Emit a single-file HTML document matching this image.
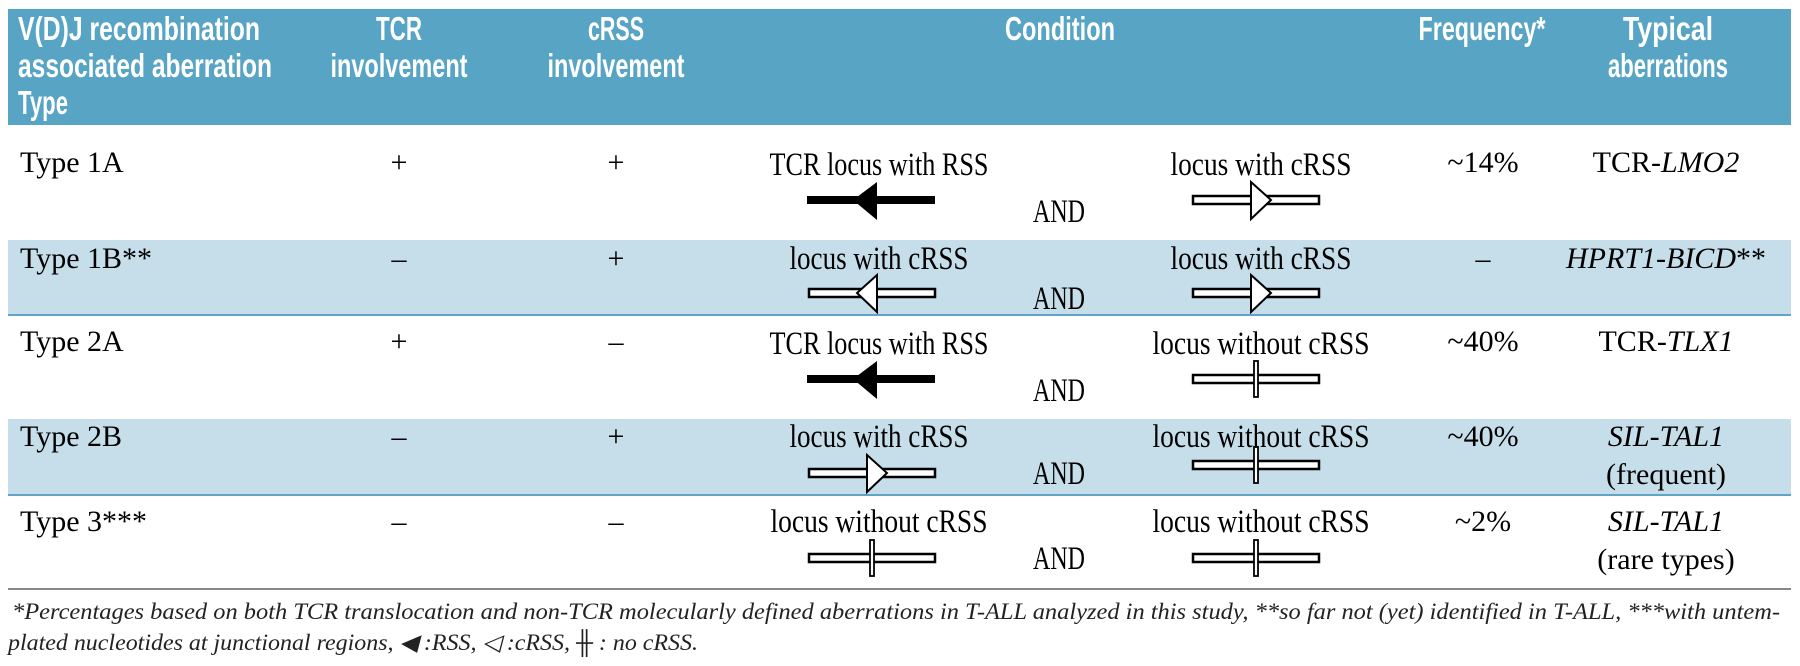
<!DOCTYPE html>
<html><head><meta charset="utf-8"><style>html,body{margin:0;padding:0;background:#fff}svg{display:block}</style></head><body>
<svg width="1800" height="666" viewBox="0 0 1800 666" xmlns="http://www.w3.org/2000/svg">
<defs>
<g id="bar"><rect x="-63" y="-4" width="126" height="8" fill="#fff" stroke="#000" stroke-width="2.5"/></g>
<g id="rss"><rect x="-65" y="-4" width="128" height="8" fill="#000"/><polygon points="-19,0 5,-18 5,20" fill="#000"/></g>
<g id="crssR"><use href="#bar"/><polygon points="-5,-18 15,0 -5,19" fill="#fff" stroke="#000" stroke-width="2"/></g>
<g id="crssL"><use href="#bar"/><polygon points="5,-18 -15,0 5,19" fill="#fff" stroke="#000" stroke-width="2"/></g>
<g id="none"><use href="#bar"/><rect x="-2" y="-18" width="4" height="36" fill="#fff" stroke="#000" stroke-width="1.8"/></g>
</defs>
<rect x="8" y="9" width="1783" height="116" fill="#58a4c5"/>
<rect x="8" y="240" width="1783" height="75" fill="#c6deea"/>
<rect x="8" y="419" width="1783" height="76" fill="#c6deea"/>
<rect x="8" y="314" width="1783" height="2" fill="#5fa5c5"/>
<rect x="8" y="494" width="1783" height="2" fill="#5fa5c5"/>
<rect x="8" y="588" width="1783" height="2" fill="#888"/>
<g font-family="'Liberation Sans Narrow','Liberation Sans',sans-serif" font-weight="bold" font-size="33" fill="#fff">
<text x="18" y="40" textLength="242" lengthAdjust="spacingAndGlyphs">V(D)J recombination</text>
<text x="18" y="77" textLength="254" lengthAdjust="spacingAndGlyphs">associated aberration</text>
<text x="18" y="114" textLength="50" lengthAdjust="spacingAndGlyphs">Type</text>
<g text-anchor="middle">
<text x="399" y="40" textLength="46" lengthAdjust="spacingAndGlyphs">TCR</text>
<text x="399" y="77" textLength="137" lengthAdjust="spacingAndGlyphs">involvement</text>
<text x="616" y="40" textLength="56" lengthAdjust="spacingAndGlyphs">cRSS</text>
<text x="616" y="77" textLength="137" lengthAdjust="spacingAndGlyphs">involvement</text>
<text x="1060" y="40" textLength="110" lengthAdjust="spacingAndGlyphs">Condition</text>
<text x="1482" y="40" textLength="127" lengthAdjust="spacingAndGlyphs">Frequency*</text>
<text x="1668" y="40" textLength="90" lengthAdjust="spacingAndGlyphs">Typical</text>
<text x="1668" y="77" textLength="120" lengthAdjust="spacingAndGlyphs">aberrations</text>
</g></g>
<g font-family="'Liberation Serif',serif" font-size="30" fill="#000">
<text x="20" y="172">Type 1A</text>
<text x="20" y="268">Type 1B**</text>
<text x="20" y="351">Type 2A</text>
<text x="20" y="446">Type 2B</text>
<text x="20" y="531">Type 3***</text>
<g text-anchor="middle">
<text x="399" y="172">+</text><text x="616" y="172">+</text>
<text x="399" y="268">–</text><text x="616" y="268">+</text>
<text x="399" y="351">+</text><text x="616" y="351">–</text>
<text x="399" y="446">–</text><text x="616" y="446">+</text>
<text x="399" y="531">–</text><text x="616" y="531">–</text>
<g font-size="33">
<text x="879" y="175" textLength="219" lengthAdjust="spacingAndGlyphs">TCR locus with RSS</text>
<text x="1261" y="175" textLength="181" lengthAdjust="spacingAndGlyphs">locus with cRSS</text>
<text x="879" y="269" textLength="179" lengthAdjust="spacingAndGlyphs">locus with cRSS</text>
<text x="1261" y="269" textLength="181" lengthAdjust="spacingAndGlyphs">locus with cRSS</text>
<text x="879" y="354" textLength="219" lengthAdjust="spacingAndGlyphs">TCR locus with RSS</text>
<text x="1261" y="354" textLength="217" lengthAdjust="spacingAndGlyphs">locus without cRSS</text>
<text x="879" y="447" textLength="179" lengthAdjust="spacingAndGlyphs">locus with cRSS</text>
<text x="1261" y="447" textLength="217" lengthAdjust="spacingAndGlyphs">locus without cRSS</text>
<text x="879" y="532" textLength="217" lengthAdjust="spacingAndGlyphs">locus without cRSS</text>
<text x="1261" y="532" textLength="217" lengthAdjust="spacingAndGlyphs">locus without cRSS</text>
<text x="1059" y="222" textLength="52" lengthAdjust="spacingAndGlyphs">AND</text>
<text x="1059" y="309" textLength="52" lengthAdjust="spacingAndGlyphs">AND</text>
<text x="1059" y="401" textLength="52" lengthAdjust="spacingAndGlyphs">AND</text>
<text x="1059" y="484" textLength="52" lengthAdjust="spacingAndGlyphs">AND</text>
<text x="1059" y="569" textLength="52" lengthAdjust="spacingAndGlyphs">AND</text>
</g>
<text x="1483" y="172">~14%</text>
<text x="1483" y="268">–</text>
<text x="1483" y="351">~40%</text>
<text x="1483" y="446">~40%</text>
<text x="1483" y="531">~2%</text>
<text x="1666" y="172">TCR-<tspan font-style="italic">LMO2</tspan></text>
<text x="1666" y="268" font-style="italic">HPRT1-BICD<tspan font-style="normal">**</tspan></text>
<text x="1666" y="351">TCR-<tspan font-style="italic">TLX1</tspan></text>
<text x="1666" y="446" font-style="italic">SIL-TAL1</text>
<text x="1666" y="484">(frequent)</text>
<text x="1666" y="531" font-style="italic">SIL-TAL1</text>
<text x="1666" y="569">(rare types)</text>
</g></g>
<use href="#rss" x="872" y="200"/>
<use href="#crssR" x="1256" y="200"/>
<use href="#crssL" x="872" y="293"/>
<use href="#crssR" x="1256" y="293"/>
<use href="#rss" x="872" y="379"/>
<use href="#none" x="1256" y="379"/>
<use href="#crssR" x="872" y="473"/>
<use href="#none" x="1256" y="465"/>
<use href="#none" x="872" y="558"/>
<use href="#none" x="1256" y="558"/>
<g font-family="'Liberation Serif',serif" font-style="italic" font-size="23" fill="#222">
<text x="12" y="619" textLength="1768" lengthAdjust="spacingAndGlyphs">*Percentages based on both TCR translocation and non-TCR molecularly defined aberrations in T-ALL analyzed in this study, **so far not (yet) identified in T-ALL, ***with untem-</text>
<text x="8" y="650" textLength="690" lengthAdjust="spacingAndGlyphs">plated nucleotides at junctional regions, ◀ :RSS, ◁ :cRSS, ╫ : no cRSS.</text>
</g>
</svg>
</body></html>
